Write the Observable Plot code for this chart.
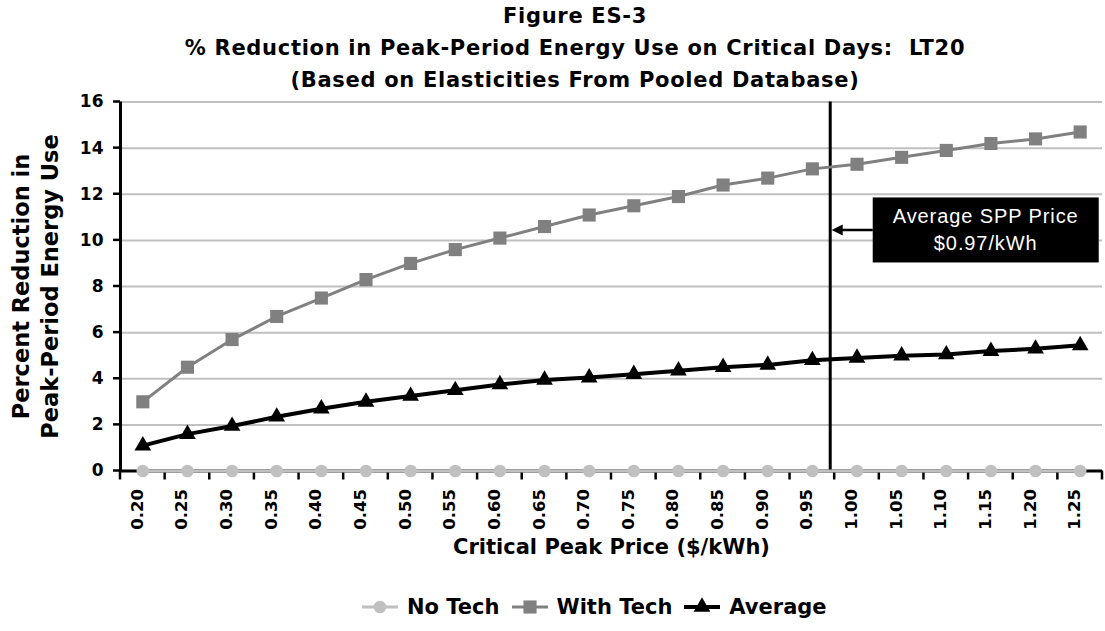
<!DOCTYPE html>
<html>
<head>
<meta charset="utf-8">
<script src="https://cdn.jsdelivr.net/npm/d3@7"></script>
<script src="https://cdn.jsdelivr.net/npm/@observablehq/plot@0.6"></script>
<style>
  html, body { margin: 0; padding: 0; background: #fff; }
  #wrap { position: relative; width: 1105px; height: 631px; overflow: hidden; font-family: "DejaVu Sans", sans-serif; color: #000; }
  #title { position: absolute; left: 45px; right: 0; top: 0; text-align: center; font-weight: bold; font-size: 21px; letter-spacing: 0.7px; line-height: 32px; }
  #chart { position: absolute; left: 0; top: 96px; }
  #legend { position: absolute; top: 595px; left: 362px; height: 24px; display: flex; align-items: center; font-weight: bold; font-size: 21px; white-space: nowrap; }
  #legend .item { display: flex; align-items: center; margin-right: 12px; }
  #legend svg { margin-right: 9px; }
</style>
</head>
<body>
<div id="wrap">
  <div id="title"></div>
  <div id="chart"></div>
  <div id="legend"></div>
</div>
<script>
// ---- data ----
const titleLines = [
  "Figure ES-3",
  "% Reduction in Peak-Period Energy Use on Critical Days:  LT20",
  "(Based on Elasticities From Pooled Database)"
];
const prices = [0.20, 0.25, 0.30, 0.35, 0.40, 0.45, 0.50, 0.55, 0.60, 0.65, 0.70,
                0.75, 0.80, 0.85, 0.90, 0.95, 1.00, 1.05, 1.10, 1.15, 1.20, 1.25];
const noTech   = [0, 0, 0, 0, 0, 0, 0, 0, 0, 0, 0, 0, 0, 0, 0, 0, 0, 0, 0, 0, 0, 0];
const withTech = [3.0, 4.5, 5.7, 6.7, 7.5, 8.3, 9.0, 9.6, 10.1, 10.6, 11.1,
                  11.5, 11.9, 12.4, 12.7, 13.1, 13.3, 13.6, 13.9, 14.2, 14.4, 14.7];
const average  = [1.1, 1.6, 1.95, 2.35, 2.7, 3.0, 3.25, 3.5, 3.75, 3.95, 4.05,
                  4.2, 4.35, 4.5, 4.6, 4.8, 4.9, 5.0, 5.05, 5.2, 5.3, 5.45];
const seriesNames = ["No Tech", "With Tech", "Average"];
const yTicks = [0, 2, 4, 6, 8, 10, 12, 14, 16];
const sppPrice = 0.97;
const sppLevel = 10.43;
const sppLabel = ["Average SPP Price", "$0.97/kWh"];
const xTitle = "Critical Peak Price ($/kWh)";
const yTitle = "Percent Reduction in\nPeak-Period Energy Use";

// ---- derived ----
const step = 0.05;
const xDomain = [prices[0] - step / 2, prices[prices.length - 1] + step / 2];
const boundaries = prices.map(p => p - step / 2).concat([prices[prices.length - 1] + step / 2]);
const seriesValues = [noTech, withTech, average];
const rows = seriesNames.map((name, s) => prices.map((p, i) => ({series: name, price: p, value: seriesValues[s][i]})));
const styles = {
  "No Tech":   {color: "#c0c0c0", symbol: "circle",   r: 6.3, sw: 3},
  "With Tech": {color: "#808080", symbol: "square",   r: 7.4, sw: 3},
  "Average":   {color: "#000000", symbol: "triangle", r: 6.2, sw: 4}
};

document.getElementById("title").innerHTML = titleLines.map(t => `<div>${t.replace(/  /g, " &nbsp;")}</div>`).join("");

// custom marks drawn through the plot's scales
function getScales(args) { return Array.isArray(args[0]) || args[0] == null || typeof args[0].x !== "function" ? args[1] : args[0]; }

const axisTicks = function(...args) {
  const {x, y} = getScales(args);
  const g = d3.create("svg:g").attr("stroke", "#000").attr("stroke-width", 2.5);
  const x0 = x(xDomain[0]);
  for (const t of yTicks) g.append("line").attr("x1", x0 - 7).attr("x2", x0).attr("y1", y(t)).attr("y2", y(t));
  for (const b of boundaries) g.append("line").attr("x1", x(b)).attr("x2", x(b)).attr("y1", y(0)).attr("y2", y(0) + 9);
  return g.node();
};

const callout = function(...args) {
  const {x, y} = getScales(args);
  const px = x(sppPrice), py = y(sppLevel);
  const g = d3.create("svg:g");
  const bx = px + 43, bw = 226, bh = 65;
  g.append("line").attr("x1", bx).attr("x2", px + 10).attr("y1", py).attr("y2", py).attr("stroke", "#000").attr("stroke-width", 2.5);
  g.append("path").attr("d", `M${px + 2},${py} L${px + 13},${py - 5.5} L${px + 13},${py + 5.5} Z`).attr("fill", "#000");
  g.append("rect").attr("x", bx).attr("y", py - bh / 2).attr("width", bw).attr("height", bh).attr("fill", "#000");
  sppLabel.forEach((t, i) => {
    g.append("text").attr("x", bx + bw / 2).attr("y", py + (i === 0 ? -14 : 13)).attr("dy", "0.35em")
      .attr("text-anchor", "middle").attr("fill", "#fff")
      .attr("font-family", "'Liberation Sans', Arial, sans-serif").attr("font-weight", "normal")
      .attr("font-size", 20).attr("letter-spacing", "0.9px")
      .text(t);
  });
  return g.node();
};

const seriesMarks = seriesNames.flatMap((name, s) => {
  const st = styles[name];
  return [
    Plot.line(rows[s], {x: "price", y: "value", stroke: st.color, strokeWidth: st.sw}),
    Plot.dot(rows[s], {x: "price", y: "value", symbol: () => st.symbol, fill: st.color, stroke: "none", r: st.r})
  ];
});

const chart = Plot.plot({
  width: 1105,
  height: 470,
  marginLeft: 120,
  marginRight: 3,
  marginTop: 5.5,
  marginBottom: 95.5,
  style: {background: "white", fontFamily: "DejaVu Sans, sans-serif", color: "#000", overflow: "visible"},
  x: {type: "linear", domain: xDomain, axis: null},
  y: {domain: [0, 16], axis: null},
  symbol: {type: "identity"},
  marks: [
    Plot.ruleY(yTicks.filter(t => t > 0), {stroke: "#c0c0c0", strokeWidth: 2}),
    Plot.ruleX([xDomain[0]], {stroke: "#000", strokeWidth: 3}),
    Plot.ruleY([0], {stroke: "#000", strokeWidth: 3}),
    axisTicks,
    Plot.text(yTicks, {y: d => d, frameAnchor: "left", textAnchor: "end", dx: -17, text: d => String(d), fontSize: 17, fontWeight: "bold", fill: "#000"}),
    Plot.text(prices, {x: d => d, frameAnchor: "bottom", rotate: -90, textAnchor: "end", dy: 18, text: d => d.toFixed(2), fontSize: 16.5, fontWeight: "bold", fill: "#000"}),
    Plot.text([xTitle], {frameAnchor: "bottom", dy: 83, text: d => d, fontSize: 21, fontWeight: "bold", fill: "#000"}),
    Plot.text([yTitle], {frameAnchor: "left", textAnchor: "middle", dx: -86, rotate: -90, text: d => d, fontSize: 22.5, lineHeight: 1.3, fontWeight: "bold", fill: "#000"}),
    Plot.ruleX([sppPrice], {y1: 0, y2: 16, stroke: "#000", strokeWidth: 3}),
    ...seriesMarks,
    callout
  ]
});
document.getElementById("chart").appendChild(chart);

// legend
const legend = document.getElementById("legend");
for (const name of seriesNames) {
  const st = styles[name];
  const item = document.createElement("div");
  item.className = "item";
  const sym = d3.symbol(st.symbol === "circle" ? d3.symbolCircle : st.symbol === "square" ? d3.symbolSquare : d3.symbolTriangle, Math.PI * st.r * st.r)();
  item.innerHTML = `<svg width="36" height="20" viewBox="0 0 36 20"><line x1="0" x2="36" y1="10" y2="10" stroke="${st.color}" stroke-width="${st.sw}"/><path transform="translate(18,10)" d="${sym}" fill="${st.color}"/></svg><span>${name}</span>`;
  legend.appendChild(item);
}
</script>
</body>
</html>
